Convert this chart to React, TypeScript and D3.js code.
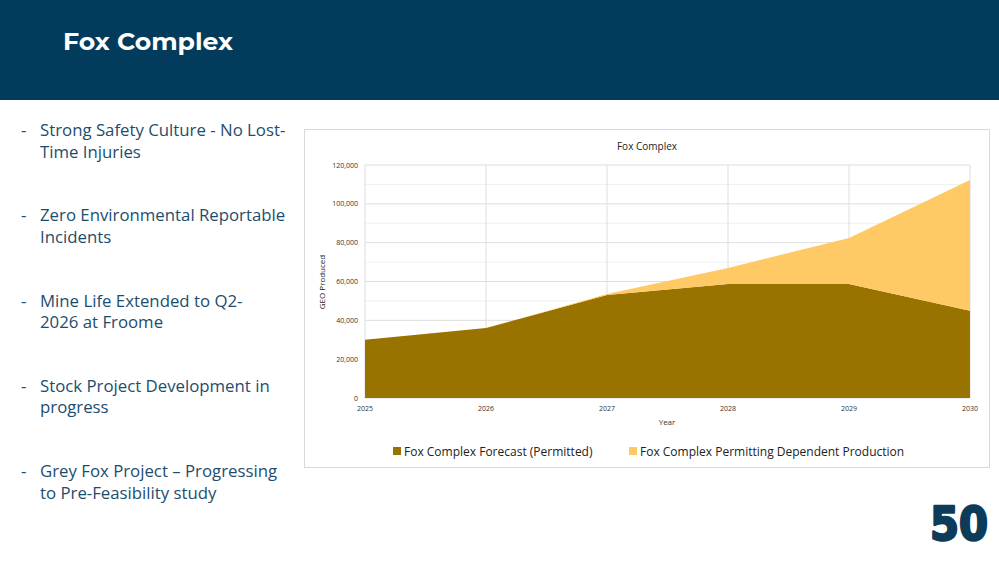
import * as d3 from "d3";

const years = [2025, 2026, 2027, 2028, 2029, 2030];
const permitted = [30000, 36000, 53000, 58700, 58700, 45000];
const dependent = [0, 0, 500, 8300, 23700, 67300];
const yTicks = [0, 20000, 40000, 60000, 80000, 100000, 120000];
const seriesNames = [
  "Fox Complex Forecast (Permitted)",
  "Fox Complex Permitting Dependent Production",
];
const seriesColors = ["#997300", "#ffca65"];
const bullets = [
  ["Strong Safety Culture - No Lost-", "Time Injuries"],
  ["Zero Environmental Reportable", "Incidents"],
  ["Mine Life Extended to Q2-", "2026 at Froome"],
  ["Stock Project Development in", "progress"],
  ["Grey Fox Project \u2013 Progressing", "to Pre-Feasibility study"],
];

const W = 999;
const H = 562;
const navy = "#023b5b";
const bodyFont = "'Open Sans', 'Liberation Sans', sans-serif";

export default function App() {
  // plot area in page pixels
  const left = 365, right = 970, top = 165, bottom = 398;
  const x = d3.scaleLinear().domain([2025, 2030]).range([left, right]);
  const y = d3.scaleLinear().domain([0, 120000]).range([bottom, top]);

  const rows = years.map((yr, i) => ({ year: yr, permitted: permitted[i], dependent: dependent[i] }));
  const stacked = d3.stack<any>().keys(["permitted", "dependent"])(rows);
  const area = d3
    .area<any>()
    .x((d) => x(d.data.year))
    .y0((d) => y(d[0]))
    .y1((d) => y(d[1]));

  const minor = d3.range(10000, 120000, 20000);

  return (
    <div style={{ position: "fixed", left: 0, top: 0, width: W, height: H, background: "#fff" }}>
      <svg width={W} height={H} style={{ display: "block" }}>
        <rect x={0} y={0} width={W} height={100} fill={navy} />
        <text x={63} y={50} fill="#fff" fontFamily="Montserrat, 'Open Sans', sans-serif" fontWeight={700} fontSize={24}
          textLength={170} lengthAdjust="spacingAndGlyphs">
          Fox Complex
        </text>

        {bullets.map((lines, i) => (
          <g key={i} fontFamily={bodyFont} fontSize={16.8} fill="#1d4d6d">
            <text x={21} y={136 + i * 85.3}>-</text>
            {lines.map((l, j) => (
              <text key={j} x={40} y={136 + i * 85.3 + j * 21.5}>{l}</text>
            ))}
          </g>
        ))}

        {/* chart frame */}
        <rect x={304.5} y={129.5} width={685} height={338} fill="#fff" stroke="#d9d9d9" />
        <text x={647} y={150} textAnchor="middle" fontFamily={bodyFont} fontSize={10} fill="#222">
          Fox Complex
        </text>

        {minor.map((v) => (
          <line key={"m" + v} x1={left} x2={right} y1={y(v)} y2={y(v)} stroke="#f0f0f0" />
        ))}
        {yTicks.map((v) => (
          <line key={"g" + v} x1={left} x2={right} y1={y(v)} y2={y(v)} stroke="#dedede" />
        ))}
        {years.map((yr) => (
          <line key={"v" + yr} x1={x(yr)} x2={x(yr)} y1={top} y2={bottom} stroke="#dedede" />
        ))}

        {stacked.map((s, i) => (
          <path key={i} d={area(s as any) || ""} fill={seriesColors[i]} />
        ))}

        {yTicks.map((v) => (
          <text key={"yl" + v} x={358} y={y(v) + 2.5} textAnchor="end" fontFamily={bodyFont} fontSize={7} fill="#333">
            {d3.format(",")(v)}
          </text>
        ))}
        {years.map((yr) => (
          <text key={"xl" + yr} x={x(yr)} y={411} textAnchor="middle" fontFamily={bodyFont} fontSize={7} fill="#333">
            {yr}
          </text>
        ))}
        <text x={667} y={425} textAnchor="middle" fontFamily={bodyFont} fontSize={8} fill="#333">Year</text>
        <text
          transform={`translate(325,282) rotate(-90)`}
          textAnchor="middle"
          fontFamily={bodyFont}
          fontSize={8}
          fill="#222"
        >
          GEO Produced
        </text>

        {seriesNames.map((n, i) => {
          const lx = i === 0 ? 393 : 629;
          return (
            <g key={n}>
              <rect x={lx} y={447} width={8} height={8} fill={seriesColors[i]} />
              <text x={lx + 11} y={455.5} fontFamily={bodyFont} fontSize={12} fill="#222">{n}</text>
            </g>
          );
        })}

        <text x={988} y={540} textAnchor="end" fontFamily="'DejaVu Sans', sans-serif" fontWeight={700} fontSize={47}
          fill="#0d3c5a" stroke="#0d3c5a" strokeWidth={2.5} strokeLinejoin="round"
          textLength={58} lengthAdjust="spacingAndGlyphs">
          50
        </text>
      </svg>
    </div>
  );
}
